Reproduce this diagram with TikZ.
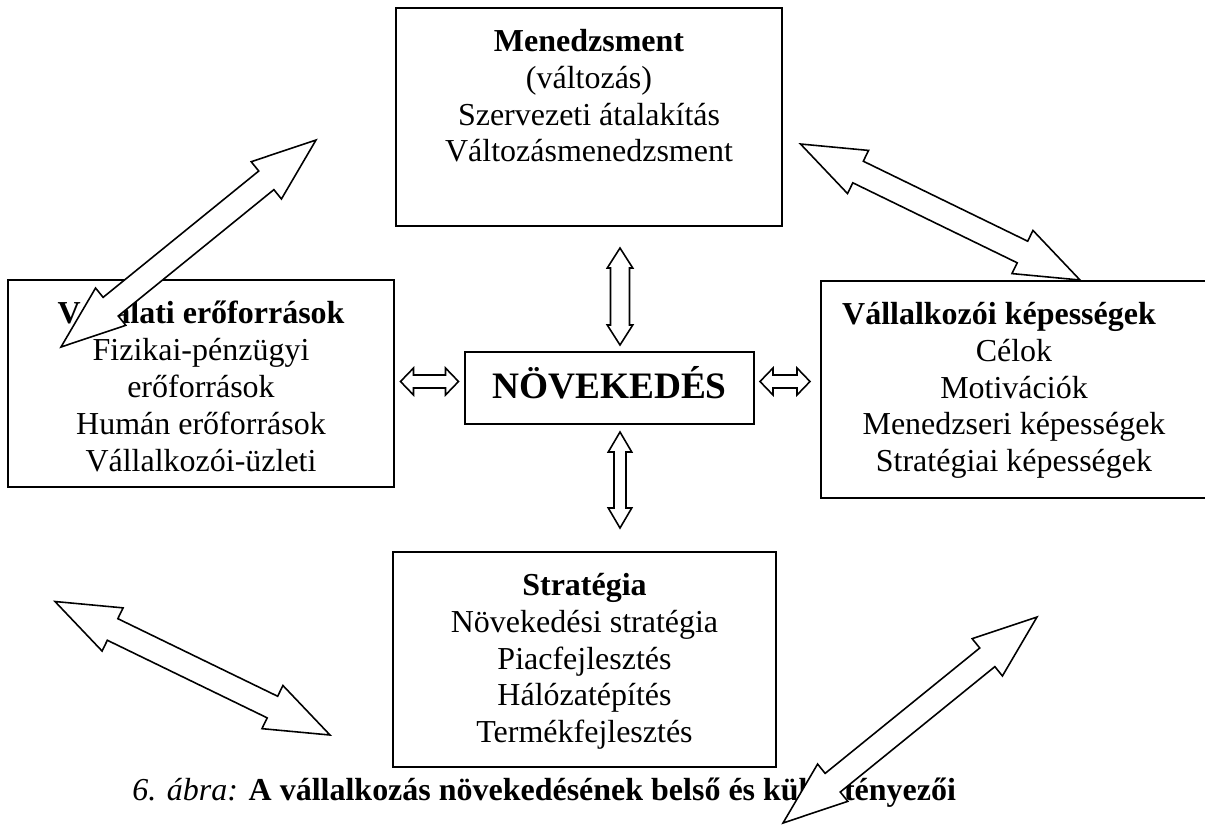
\documentclass[tikz,border=0pt]{standalone}
\usepackage{fontspec}
\setmainfont{Liberation Serif}
\usetikzlibrary{calc,positioning}

% two-headed block arrow from #1 to #2:
% head length #3, head half width #4, body half width #5
\newcommand{\twoway}[5]{%
    \path ($(#1)!#3!(#2)$) coordinate (tw-p) ($(#2)!#3!(#1)$) coordinate (tw-q);
    \draw[blockarr] (#1)
        -- ($(tw-p)!#4!90:(#2)$) -- ($(tw-p)!#5!90:(#2)$)
        -- ($(tw-q)!#5!-90:(#1)$) -- ($(tw-q)!#4!-90:(#1)$)
        -- (#2)
        -- ($(tw-q)!#4!90:(#1)$) -- ($(tw-q)!#5!90:(#1)$)
        -- ($(tw-p)!#5!-90:(#2)$) -- ($(tw-p)!#4!-90:(#2)$)
        -- cycle;}

\begin{document}
\begin{tikzpicture}[
    framebox/.style={draw,line width=1.2pt,minimum width=7.72cm,inner sep=0pt},
    boxtext/.style={align=center,inner sep=0pt,font=\fontsize{18.2}{20.94}\selectfont},
    blockarr/.style={draw=black,fill=white,line width=0.9pt,line join=miter}]
            \useasboundingbox (0,0) rectangle (24.1,-16.5);

            % the five boxes
            \node[framebox,minimum height=4.36cm] (mgmt) at (11.78,-2.34) {};
            \node[framebox,minimum height=4.14cm] (res) at (4.02,-7.67) {};
            \node[framebox,minimum height=4.34cm] (abil) at (20.28,-7.79) {};
            \node[framebox,minimum width=7.66cm,minimum height=4.30cm] (strat) at (11.69,-13.19) {};
            \node[framebox,minimum width=5.78cm,minimum height=1.44cm,
                  text height=0.5cm,text depth=0.1cm,
                  font=\fontsize{21.25}{24}\selectfont\bfseries] (grow) at (12.19,-7.76) {NÖVEKEDÉS};

            % texts of the boxes
            \node[boxtext,below=0.44cm of mgmt.north] (mgmt-t)
                {\textbf{Menedzsment}\\(változás)\\Szervezeti átalakítás\\Változásmenedzsment};
            \node[boxtext,below=0.44cm of res.north] (res-t)
                {\textbf{Vállalati erőforrások}\\Fizikai-pénzügyi\\erőforrások\\Humán erőforrások\\Vállalkozói-üzleti};
            \node[boxtext,below=0.44cm of abil.north] (abil-t)
                {\textbf{Vállalkozói képességek}\hspace*{0.6cm}\\Célok\\Motivációk\\Menedzseri képességek\\Stratégiai képességek};
            \node[boxtext,below=0.44cm of strat.north] (strat-t)
                {\textbf{Stratégia}\\Növekedési stratégia\\Piacfejlesztés\\Hálózatépítés\\Termékfejlesztés};

            % caption
            \node[boxtext,anchor=base west] (caption) at (2.64,-16.0)
                {\textit{6. ábra:} \textbf{A vállalkozás növekedésének belső és külső tényezői}};

            %%%%%%%%%%%%%%%%%%%%%%%%%%%%%%%%%%%
            % small arrows round NÖVEKEDÉS
            \coordinate (up-a) at (12.40,-4.96);
            \coordinate (up-b) at (12.40,-6.90);
            \coordinate (dn-a) at (12.40,-8.64);
            \coordinate (dn-b) at (12.40,-10.56);
            \coordinate (lt-a) at (8.01,-7.63);
            \coordinate (lt-b) at (9.17,-7.63);
            \coordinate (rt-a) at (15.20,-7.63);
            \coordinate (rt-b) at (16.20,-7.63);
            \twoway{up-a}{up-b}{0.40cm}{0.255cm}{0.19cm}
            \twoway{dn-a}{dn-b}{0.40cm}{0.235cm}{0.12cm}
            \twoway{lt-a}{lt-b}{0.26cm}{0.27cm}{0.13cm}
            \twoway{rt-a}{rt-b}{0.26cm}{0.27cm}{0.13cm}
            %%%%%%%%%%%%%%%%%%%%%%%%%%%%%%%%%%%

            %%%%%%%%%%%%%%%%%%%%%%%%%%%%%%%%%%%
            % big diagonal arrows
            \coordinate (nw-a) at (1.22,-6.94);
            \coordinate (nw-b) at (6.32,-2.80);
            \coordinate (ne-a) at (16.01,-2.88);
            \coordinate (ne-b) at (21.60,-5.60);
            \coordinate (sw-a) at (1.10,-12.03);
            \coordinate (sw-b) at (6.60,-14.70);
            \coordinate (se-a) at (15.66,-16.46);
            \coordinate (se-b) at (20.74,-12.34);
            \twoway{nw-a}{nw-b}{1.28cm}{0.48cm}{0.24cm}
            \twoway{ne-a}{ne-b}{1.28cm}{0.48cm}{0.24cm}
            \twoway{sw-a}{sw-b}{1.28cm}{0.48cm}{0.24cm}
            \twoway{se-a}{se-b}{1.28cm}{0.48cm}{0.24cm}
            %%%%%%%%%%%%%%%%%%%%%%%%%%%%%%%%%%%
        \end{tikzpicture}
\end{document}
